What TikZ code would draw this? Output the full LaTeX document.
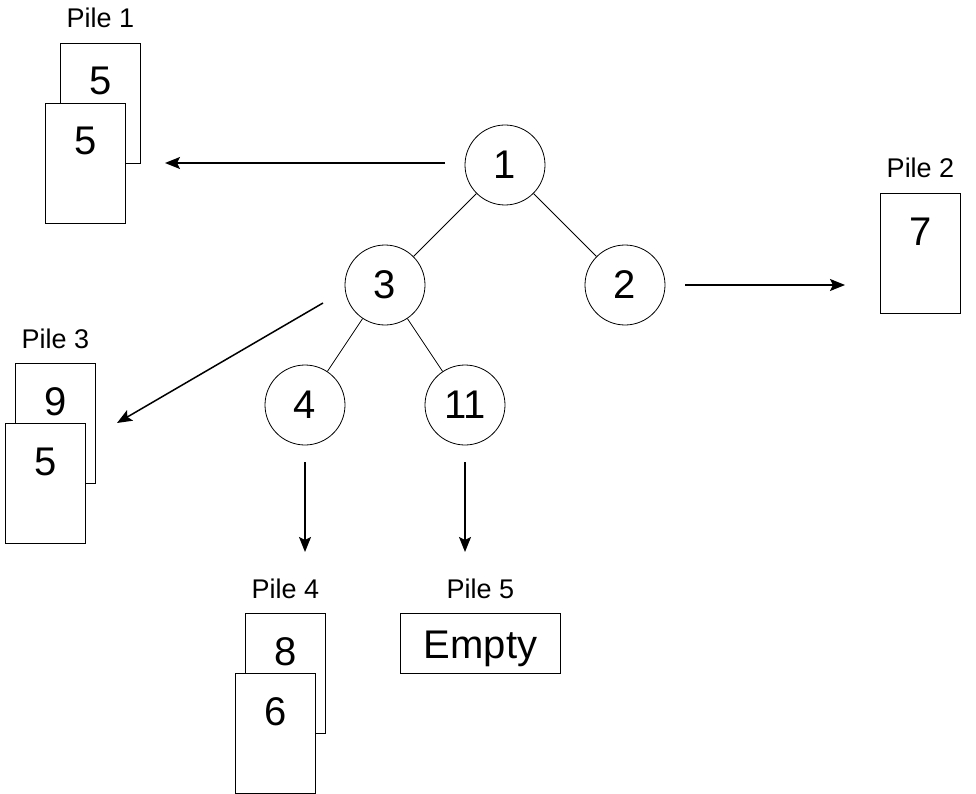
\documentclass[tikz,border=0pt]{standalone}
\usepackage{fontspec}
\setmainfont{Liberation Sans}
\usetikzlibrary{arrows.meta}
\begin{document}
\begin{tikzpicture}[x=1pt,y=-1pt,
  card/.style={draw, fill=white, line width=1pt, minimum width=80pt, minimum height=120pt, inner sep=0pt, anchor=north west},
  emptybox/.style={draw, fill=white, line width=1pt, minimum width=160pt, minimum height=60pt, inner sep=0pt, anchor=north west},
  num/.style={font=\fontsize{40}{48}\selectfont, anchor=base, inner sep=0pt},
  pilelbl/.style={font=\fontsize{27}{32}\selectfont, anchor=base, inner sep=0pt},
  vtx/.style={circle, draw, line width=0.8pt, minimum size=80pt, inner sep=0pt, font=\fontsize{40}{48}\selectfont},
  edge/.style={line width=0.8pt},
  arr/.style={line width=1.5pt, -{Stealth[length=15pt,width=12pt,inset=3pt]}}]
\useasboundingbox (0,0) rectangle (976,794);

% tree
\node[vtx] (n1) at (505,165) {1};
\node[vtx] (n3) at (385,285) {3};
\node[vtx] (n2) at (625,285) {2};
\node[vtx] (n4) at (305,405) {4};
\node[vtx] (n11) at (465,405) {11};
\draw[edge] (n1) -- (n3);
\draw[edge] (n1) -- (n2);
\draw[edge] (n3) -- (n4);
\draw[edge] (n3) -- (n11);

% Pile 1
\node[card] (p1b) at (60,43) {};
\node[num] (p1bt) at ([yshift=-52pt]p1b.north) {5};
\node[card] (p1f) at (45,103) {};
\node[num] (p1ft) at ([yshift=-52pt]p1f.north) {5};
\node[pilelbl] (p1l) at ([yshift=15pt]p1b.north) {Pile 1};

% Pile 2
\node[card] (p2b) at (880,193) {};
\node[num] (p2bt) at ([yshift=-52pt]p2b.north) {7};
\node[pilelbl] (p2l) at ([yshift=15pt]p2b.north) {Pile 2};

% Pile 3
\node[card] (p3b) at (15,363) {};
\node[num] (p3bt) at ([yshift=-52pt]p3b.north) {9};
\node[card] (p3f) at (5,423) {};
\node[num] (p3ft) at ([yshift=-52pt]p3f.north) {5};
\node[pilelbl] (p3l) at ([yshift=15pt]p3b.north) {Pile 3};

% Pile 4
\node[card] (p4b) at (245,613) {};
\node[num] (p4bt) at ([yshift=-52pt]p4b.north) {8};
\node[card] (p4f) at (235,673) {};
\node[num] (p4ft) at ([yshift=-52pt]p4f.north) {6};
\node[pilelbl] (p4l) at ([yshift=15pt]p4b.north) {Pile 4};

% Pile 5
\node[emptybox] (p5b) at (400,613) {};
\node[num] (p5bt) at ([yshift=-45pt]p5b.north) {Empty};
\node[pilelbl] (p5l) at ([yshift=15pt]p5b.north) {Pile 5};

% arrows
\coordinate (a1s) at (445,163); \coordinate (a1e) at (165,163);
\coordinate (a2s) at (685,285); \coordinate (a2e) at (845,285);
\coordinate (a3s) at (323,303); \coordinate (a3e) at (117,423);
\coordinate (a4s) at (305,462); \coordinate (a4e) at (305,552);
\coordinate (a5s) at (465,462); \coordinate (a5e) at (465,552);
\draw[arr] (a1s) -- (a1e);
\draw[arr] (a2s) -- (a2e);
\draw[arr] (a3s) -- (a3e);
\draw[arr] (a4s) -- (a4e);
\draw[arr] (a5s) -- (a5e);
\end{tikzpicture}
\end{document}
